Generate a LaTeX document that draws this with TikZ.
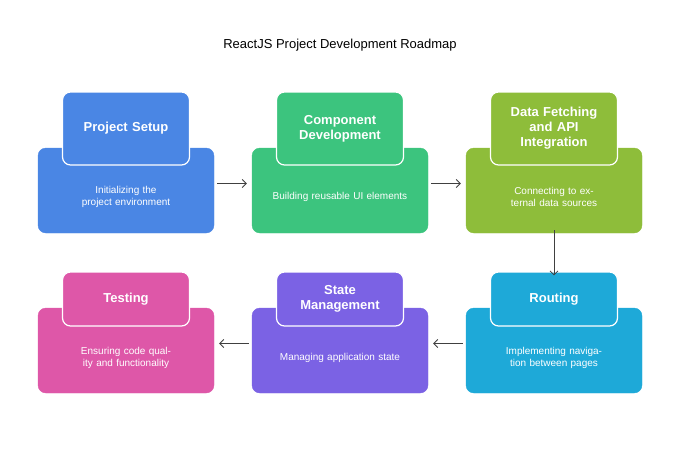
\documentclass[tikz,border=0pt]{standalone}
\usepackage{fontspec}
\setmainfont{Liberation Sans}
\usetikzlibrary{arrows.meta}
\definecolor{cblue}{HTML}{4A86E4}
\definecolor{cgreen}{HTML}{3CC47E}
\definecolor{colive}{HTML}{8EBD3A}
\definecolor{ccyan}{HTML}{1EA9D8}
\definecolor{cpurple}{HTML}{7B62E4}
\definecolor{cpink}{HTML}{DE57A8}
\tikzset{
  base/.style={rectangle,rounded corners=8pt,minimum width=176pt,minimum height=85pt,
    fill=#1,draw=#1,text=white,font=\fontsize{10}{12}\selectfont,align=center,text width=150pt},
  tab/.style={rectangle,rounded corners=8pt,minimum width=127pt,fill=#1,draw=white,
    line width=1.2pt,text=white,font=\bfseries\fontsize{13}{15}\selectfont,align=center,text width=120pt},
  flow/.style={-{Straight Barb[length=4pt,width=8pt]},draw=black!75,line width=0.8pt}
}
\begin{document}
\begin{tikzpicture}[x=1pt,y=-1pt]
  \useasboundingbox (0,0) rectangle (680,450);
  \node (title) at (340,45) {\fontsize{13}{15}\selectfont ReactJS Project Development Roadmap};
  % first row
  \node[base=cblue] (b1) at (126,190.5) {};
  \node[base=cgreen] (b2) at (340,190.5) {};
  \node[base=colive] (b3) at (554,190.5) {};
  \node[tab=cblue,minimum height=73pt] (t1) at (126,128.5) {Project Setup};
  \node[tab=cgreen,minimum height=73pt] (t2) at (340,128.5) {Component\\Development};
  \node[tab=colive,minimum height=73pt] (t3) at (554,128.5) {Data Fetching\\and API\\Integration};
  \node[base=cblue,draw=none,fill=none,minimum height=0pt] (d1) at (126,197) {Initializing the project environment};
  \node[base=cgreen,draw=none,fill=none,minimum height=0pt] (d2) at (340,197) {Building reusable UI elements};
  \node[base=colive,draw=none,fill=none,minimum height=0pt] (d3) at (554,197) {Connecting to external data sources};
  % second row
  \node[base=cpink] (b6) at (126,350.5) {};
  \node[base=cpurple] (b5) at (340,350.5) {};
  \node[base=ccyan] (b4) at (554,350.5) {};
  \node[tab=cpink,minimum height=54pt] (t6) at (126,299) {Testing};
  \node[tab=cpurple,minimum height=54pt] (t5) at (340,299) {State\\Management};
  \node[tab=ccyan,minimum height=54pt] (t4) at (554,299) {Routing};
  \node[base=cpink,draw=none,fill=none,minimum height=0pt] (d6) at (126,358) {Ensuring code quality and functionality};
  \node[base=cpurple,draw=none,fill=none,minimum height=0pt] (d5) at (340,358) {Managing application state};
  \node[base=ccyan,draw=none,fill=none,minimum height=0pt] (d4) at (554,358) {Implementing navigation between pages};
  % arrows
  \draw[flow] ([xshift=3pt,yshift=7pt]b1.east) -- ([xshift=-5pt,yshift=7pt]b2.west);
  \draw[flow] ([xshift=3pt,yshift=7pt]b2.east) -- ([xshift=-5pt,yshift=7pt]b3.west);
  \draw[flow] ([yshift=3pt]b3.south) -- ([yshift=-4pt]t4.north);
  \draw[flow] ([xshift=-3pt,yshift=7pt]b4.west) -- ([xshift=5pt,yshift=7pt]b5.east);
  \draw[flow] ([xshift=-3pt,yshift=7pt]b5.west) -- ([xshift=5pt,yshift=7pt]b6.east);
\end{tikzpicture}
\end{document}
